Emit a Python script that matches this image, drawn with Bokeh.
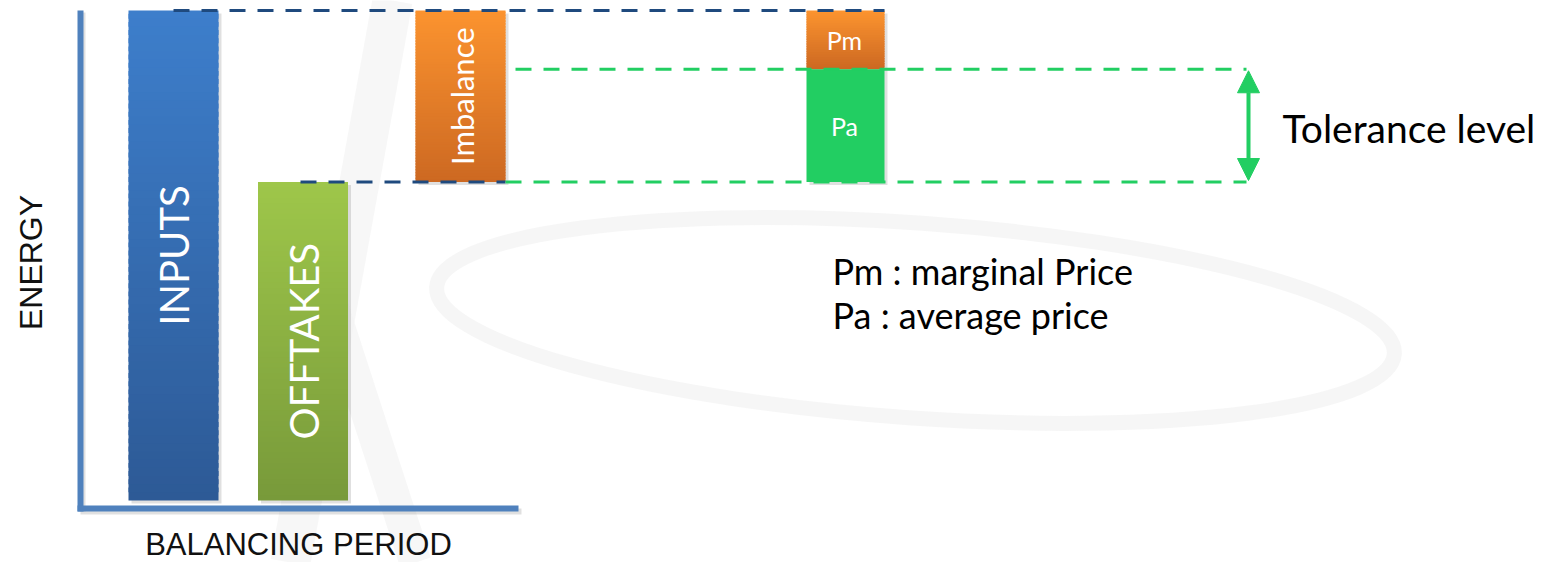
import numpy as np
from bokeh.plotting import figure
from bokeh.models import Range1d, Arrow, NormalHead
from bokeh.core.properties import value
from bokeh.embed import file_html
from bokeh.resources import INLINE

# ---------------- data ----------------
bar_labels = ["INPUTS", "OFFTAKES", "Imbalance"]
inputs = 100.0          # energy injected in the balancing period
offtakes = 65.0         # energy withdrawn
imbalance = inputs - offtakes
tolerance = 23.0        # part of the imbalance settled at average price
price_labels = ["Pm", "Pa"]
x_title = "BALANCING PERIOD"
y_title = "ENERGY"
tolerance_label = "Tolerance level"
legend_lines = ["Pm : marginal Price", "Pa : average price"]

# ---------------- layout / style ----------------
W, H = 1544, 562
PX_PER_UNIT = 4.9          # vertical pixels per energy unit
BASE_PAGE_Y = 500          # page y of energy 0
def ey(page_y):            # page pixel y -> energy units (layout helper)
    return (BASE_PAGE_Y - page_y) / PX_PER_UNIT

y_lo, y_hi = ey(H), ey(0)

BLUE_TOP, BLUE_BOT = "#3D7ECB", "#2D5A96"
GREEN_TOP, GREEN_BOT = "#9EC64A", "#789A3A"
ORANGE_TOP, ORANGE_BOT = "#FB932F", "#CD6922"
PA_GREEN = "#22CE62"
NAVY = "#1F4A7E"
AXIS_BLUE = "#4F81BD"
CAL = value("Lato")
ARIAL = value("Liberation Sans")

p = figure(width=W, height=H, output_backend="svg", toolbar_location=None,
           x_range=Range1d(0, W), y_range=Range1d(y_lo, y_hi),
           x_axis_location=None, y_axis_location=None, min_border=0,
           background_fill_color="white", border_fill_color="white")
p.outline_line_color = None
p.grid.visible = False

# faint watermark swoosh
p.ellipse(x=[915], y=[ey(320)], width=[960], height=[195], angle=[-0.07],
          width_units="screen", height_units="screen",
          fill_color=None, line_color="#EFEFEF", line_width=15, line_alpha=0.55)
p.segment(x0=[392], y0=[ey(0)], x1=[290], y1=[ey(562)],
          line_color="#F4F4F4", line_width=40, line_alpha=0.7)
p.segment(x0=[330], y0=[ey(300)], x1=[415], y1=[ey(562)],
          line_color="#F4F4F4", line_width=32, line_alpha=0.7)


def hex2rgb(h):
    h = h.lstrip("#")
    return np.array([int(h[i:i + 2], 16) for i in (0, 2, 4)], dtype=float)


def gradient_bar(xc, w, bottom, top, c_top, c_bot, n=60):
    edges = np.linspace(bottom, top, n + 1)
    step = edges[1] - edges[0]
    t = np.linspace(1.0, 0.0, n)  # bottom slice -> bottom colour
    a, b = hex2rgb(c_top), hex2rgb(c_bot)
    cols = ["#%02x%02x%02x" % tuple(int(round(v)) for v in (a * (1 - tt) + b * tt))
            for tt in t]
    tops = list(edges[1:])
    tops = [tp + (0.6 * step if i < n - 1 else 0) for i, tp in enumerate(tops)]
    # drop shadow
    dx, dy = 3, 3 / PX_PER_UNIT
    p.quad(left=[xc - w / 2 + dx], right=[xc + w / 2 + dx],
           bottom=[bottom - dy], top=[top - dy],
           fill_color="black", fill_alpha=0.12, line_color=None)
    p.quad(left=[xc - w / 2] * n, right=[xc + w / 2] * n,
           bottom=list(edges[:-1]), top=tops,
           fill_color=cols, line_color=None)


# bars
x_in, x_off, x_imb, x_price = 173, 302.5, 460, 845
bw, bw_p = 90, 78
gradient_bar(x_in, bw, 0, inputs, BLUE_TOP, BLUE_BOT)
gradient_bar(x_off, bw, 0, offtakes, GREEN_TOP, GREEN_BOT)
gradient_bar(x_imb, bw, offtakes, offtakes + imbalance, ORANGE_TOP, ORANGE_BOT)
gradient_bar(x_price, bw_p, offtakes + tolerance, inputs, ORANGE_TOP, ORANGE_BOT, n=24)
p.quad(left=[x_price - bw_p / 2 + 3], right=[x_price + bw_p / 2 + 3],
       bottom=[offtakes - 3 / PX_PER_UNIT], top=[offtakes + tolerance - 3 / PX_PER_UNIT],
       fill_color="black", fill_alpha=0.12, line_color=None)
p.quad(left=[x_price - bw_p / 2], right=[x_price + bw_p / 2],
       bottom=[offtakes], top=[offtakes + tolerance],
       fill_color=PA_GREEN, line_color=None)

# axes (drawn as thick lines with shadow)
ax_y = -8 / PX_PER_UNIT
p.segment(x0=[82, 80], y0=[ax_y - 3 / PX_PER_UNIT, ax_y - 3 / PX_PER_UNIT],
          x1=[82, 521], y1=[inputs - 2 / PX_PER_UNIT, ax_y - 3 / PX_PER_UNIT],
          line_color="black", line_alpha=0.12, line_width=6)
p.segment(x0=[80, 77], y0=[ax_y - 3 / PX_PER_UNIT, ax_y],
          x1=[80, 518], y1=[inputs, ax_y],
          line_color=AXIS_BLUE, line_width=6)

# dashed reference lines
dash = "16 12"
p.segment(x0=[173, 300], y0=[inputs, offtakes], x1=[884, 505], y1=[inputs, offtakes],
          line_color=NAVY, line_width=3, line_dash=dash)
p.segment(x0=[515, 505], y0=[offtakes + tolerance, offtakes],
          x1=[1246, 1246], y1=[offtakes + tolerance, offtakes],
          line_color=PA_GREEN, line_width=3, line_dash=dash)

# tolerance arrow
p.add_layout(Arrow(start=NormalHead(size=22, fill_color=PA_GREEN, line_color=PA_GREEN),
                   end=NormalHead(size=22, fill_color=PA_GREEN, line_color=PA_GREEN),
                   x_start=1248, y_start=offtakes + 0.3, x_end=1248,
                   y_end=offtakes + tolerance - 0.3,
                   line_color=PA_GREEN, line_width=4))

# texts inside bars
p.text(x=[x_in], y=[inputs / 2], text=[bar_labels[0]], angle=np.pi / 2,
       text_font=CAL, text_font_size=value("40px"), text_color="white",
       text_align="center", text_baseline="middle")
p.text(x=[x_off + 1], y=[offtakes / 2], text=[bar_labels[1]], angle=np.pi / 2,
       text_font=CAL, text_font_size=value("40px"), text_color="white",
       text_align="center", text_baseline="middle")
p.text(x=[x_imb + 1], y=[offtakes + imbalance / 2], text=[bar_labels[2]], angle=np.pi / 2,
       text_font=CAL, text_font_size=value("31px"), text_color="white",
       text_align="center", text_baseline="middle")
p.text(x=[x_price - 1, x_price - 1],
       y=[(offtakes + tolerance + inputs) / 2, offtakes + tolerance / 2],
       text=price_labels, text_font=CAL, text_font_size=value("25px"),
       text_color="white", text_align="center", text_baseline="middle")

# outside texts
p.text(x=[1282], y=[ey(127)], text=[tolerance_label],
       text_font=CAL, text_font_size=value("39px"), text_color="black",
       text_align="left", text_baseline="middle")
p.text(x=[832, 832], y=[ey(270), ey(314)], text=legend_lines,
       text_font=CAL, text_font_size=value("36px"), text_color="black",
       text_align="left", text_baseline="middle")
p.text(x=[30], y=[ey(262)], text=[y_title], angle=np.pi / 2,
       text_font=ARIAL, text_font_size=value("32px"), text_color="#111111",
       text_align="center", text_baseline="middle")
p.text(x=[298], y=[ey(544)], text=[x_title],
       text_font=ARIAL, text_font_size=value("31px"), text_color="#111111",
       text_align="center", text_baseline="middle")

open("out.html", "w").write(file_html(p, INLINE))
